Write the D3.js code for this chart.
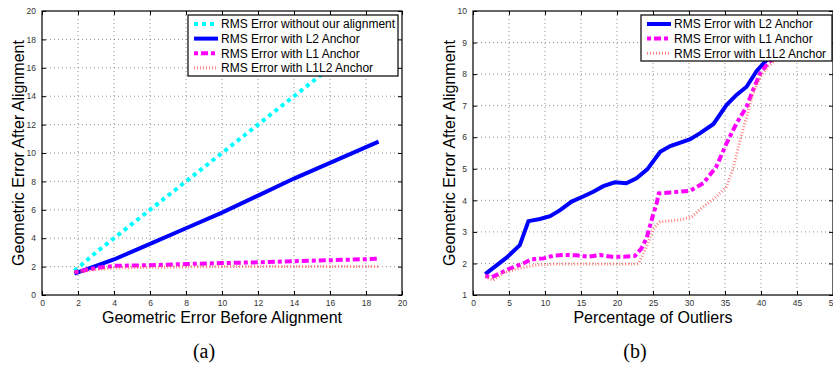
<!DOCTYPE html>
<html>
<head>
<meta charset="utf-8">
<script src="https://cdn.jsdelivr.net/npm/d3@7"></script>
<style>
  body { margin: 0; background: #fff; }
  svg { display: block; }
  text { font-family: "Liberation Sans", Arial, sans-serif; }
</style>
</head>
<body>
<svg id="chart"></svg>
<script>
let w = 833;
let h = 367;

// panel (a) data
let aX = [1.8, 3, 4, 6, 8, 10, 12, 14, 16, 18.7];
let aNoAlign = [1.7, 3, 4, 6, 8, 10, 12, 14, 16, 18.7];
let aL2 = [1.5, 2.05, 2.5, 3.6, 4.7, 5.8, 7.0, 8.2, 9.3, 10.8];
let aL1 = [1.6, 1.9, 2.05, 2.1, 2.18, 2.25, 2.3, 2.38, 2.45, 2.55];
let aL1L2 = [1.6, 1.8, 1.9, 1.95, 1.98, 2.0, 2.0, 2.0, 2.0, 2.0];

// panel (b) data
let bL2X = [1.7, 4.7, 6.5, 7.7, 9.3, 10.7, 12.1, 13.7, 15.3, 16.7, 18.1, 19.7, 21.3, 22.7, 24.2, 26, 27.4, 30.1, 31.5, 33.4, 35.2, 36.6, 38, 39.4, 40.8, 42, 44];
let bL2Y = [1.66, 2.19, 2.58, 3.34, 3.41, 3.5, 3.69, 3.96, 4.12, 4.27, 4.45, 4.57, 4.54, 4.7, 4.98, 5.54, 5.72, 5.93, 6.12, 6.42, 7.02, 7.34, 7.6, 8.1, 8.45, 8.7, 9.1];
let bL1X = [1.7, 2.6, 3.75, 5.1, 6.8, 8.1, 9.8, 11.2, 12.8, 14.4, 16, 17.6, 19.3, 20.9, 22.5, 23.4, 24.1, 25, 25.5, 25.8, 27.4, 30.1, 32, 33.8, 35.2, 36.6, 38, 38.9, 39.9, 41, 41.9, 43];
let bL1Y = [1.6, 1.56, 1.69, 1.84, 1.98, 2.13, 2.16, 2.25, 2.27, 2.26, 2.21, 2.27, 2.21, 2.21, 2.24, 2.48, 2.8, 3.53, 3.9, 4.22, 4.25, 4.3, 4.54, 5.07, 5.8, 6.44, 6.97, 7.5, 8.03, 8.35, 8.55, 8.9];
let bL1L2X = [1.7, 2.8, 4.2, 6.5, 8.8, 11.2, 13.5, 18.1, 22.7, 23, 24.1, 25, 25.5, 26, 28.75, 30.4, 32, 33.8, 35.2, 36.2, 37.1, 38, 38.9, 39.9, 41, 42.2, 43.5];
let bL1L2Y = [1.58, 1.47, 1.7, 1.85, 1.95, 1.98, 1.98, 1.98, 1.98, 2.0, 2.53, 3.06, 3.22, 3.32, 3.38, 3.48, 3.8, 4.11, 4.43, 5.07, 5.91, 6.65, 7.39, 7.92, 8.24, 8.5, 8.8];

let aXTicks = d3.range(0, 21, 2);
let aYTicks = d3.range(0, 21, 2);
let bXTicks = d3.range(0, 51, 5);
let bYTicks = d3.range(1, 11, 1);

let names = {
  none: "RMS Error without our alignment",
  l2: "RMS Error with L2 Anchor",
  l1: "RMS Error with L1 Anchor",
  l1l2: "RMS Error with L1L2 Anchor"
};

let styles = {
  none: { stroke: "#00ffff", width: 4, dash: "4,4", opacity: 1 },
  l2: { stroke: "#0000ff", width: 4, dash: null, opacity: 1 },
  l1: { stroke: "#ff00ff", width: 4, dash: "4,3,7,3", opacity: 1 },
  l1l2: { stroke: "#ff5a5a", width: 3, dash: "1,2", opacity: 0.75 }
};

let svg = d3.select("#chart").attr("width", w).attr("height", h);

function zip(xs, ys) {
  return xs.map((x, i) => [x, ys[i]]);
}

function drawPanel(cfg) {
  let xScale = d3.scaleLinear().domain(cfg.xDomain).range([cfg.left, cfg.right]);
  let yScale = d3.scaleLinear().domain(cfg.yDomain).range([cfg.bottom, cfg.top]);
  let g = svg.append("g");

  // grid
  g.selectAll(".gx").data(cfg.xTicks.slice(1, -1)).enter().append("line")
    .attr("x1", d => xScale(d)).attr("x2", d => xScale(d))
    .attr("y1", cfg.top).attr("y2", cfg.bottom)
    .attr("stroke", "#777").attr("stroke-width", 0.8).attr("stroke-dasharray", "1,3");
  g.selectAll(".gy").data(cfg.yTicks.slice(1, -1)).enter().append("line")
    .attr("y1", d => yScale(d)).attr("y2", d => yScale(d))
    .attr("x1", cfg.left).attr("x2", cfg.right)
    .attr("stroke", "#777").attr("stroke-width", 0.8).attr("stroke-dasharray", "1,3");

  // lines
  let line = d3.line().x(d => xScale(d[0])).y(d => yScale(d[1]));
  cfg.series.forEach(s => {
    let st = styles[s.key];
    g.append("path")
      .datum(s.points)
      .attr("d", line)
      .attr("fill", "none")
      .attr("stroke", st.stroke)
      .attr("stroke-width", st.width)
      .attr("stroke-dasharray", st.dash)
      .attr("opacity", st.opacity);
  });

  // axes with inward ticks on all sides
  let axB = d3.axisBottom(xScale).tickValues(cfg.xTicks).tickSizeInner(-4).tickSizeOuter(0).tickPadding(5);
  let axT = d3.axisTop(xScale).tickValues(cfg.xTicks).tickSizeInner(-4).tickSizeOuter(0).tickFormat("");
  let axL = d3.axisLeft(yScale).tickValues(cfg.yTicks).tickSizeInner(-4).tickSizeOuter(0).tickPadding(6);
  let axR = d3.axisRight(yScale).tickValues(cfg.yTicks).tickSizeInner(-4).tickSizeOuter(0).tickFormat("");
  [[axB, `translate(0,${cfg.bottom})`], [axT, `translate(0,${cfg.top})`],
   [axL, `translate(${cfg.left},0)`], [axR, `translate(${cfg.right},0)`]].forEach(([ax, tr]) => {
    let a = g.append("g").attr("transform", tr).call(ax);
    a.select(".domain").remove();
    a.selectAll("line").attr("stroke", "#000");
    a.selectAll("text").attr("font-size", 8.5).attr("fill", "#333")
      .style("font-family", "'Liberation Sans', Arial, sans-serif");
  });

  // frame
  g.append("rect")
    .attr("x", cfg.left).attr("y", cfg.top)
    .attr("width", cfg.right - cfg.left).attr("height", cfg.bottom - cfg.top)
    .attr("fill", "none").attr("stroke", "#000").attr("stroke-width", 1.2);

  // axis labels
  g.append("text")
    .attr("x", cfg.xLabelX).attr("y", 323)
    .attr("text-anchor", "middle").attr("font-size", 16)
    .text(cfg.xLabel);
  g.append("text")
    .attr("transform", `translate(${cfg.yLabelX},${(cfg.top + cfg.bottom) / 2}) rotate(-90)`)
    .attr("text-anchor", "middle").attr("font-size", 16)
    .text("Geometric Error After Alignment");
  g.append("text")
    .attr("x", cfg.capX).attr("y", 358)
    .attr("text-anchor", "middle").attr("font-size", 20)
    .style("font-family", "'Liberation Serif', 'Times New Roman', serif")
    .text(cfg.caption);

  // legend
  let lg = g.append("g");
  lg.append("rect")
    .attr("x", cfg.legend.x).attr("y", cfg.legend.y)
    .attr("width", cfg.legend.w).attr("height", cfg.legend.h)
    .attr("fill", "#fff").attr("stroke", "#000").attr("stroke-width", 1.2);
  cfg.series.forEach((s, i) => {
    let st = styles[s.key];
    let yy = cfg.legend.y + 9 + i * 14.6;
    lg.append("line")
      .attr("x1", cfg.legend.x + 6).attr("x2", cfg.legend.x + 30)
      .attr("y1", yy).attr("y2", yy)
      .attr("stroke", st.stroke).attr("stroke-width", st.width)
      .attr("stroke-dasharray", st.dash).attr("opacity", st.opacity);
    lg.append("text")
      .attr("x", cfg.legend.x + 33).attr("y", yy + 4.3)
      .attr("font-size", 12)
      .text(names[s.key]);
  });
}

drawPanel({
  left: 42, right: 402, top: 11, bottom: 295,
  xDomain: [0, 20], yDomain: [0, 20],
  xTicks: aXTicks, yTicks: aYTicks,
  xLabel: "Geometric Error Before Alignment", xLabelX: 222, yLabelX: 24,
  caption: "(a)", capX: 204,
  legend: { x: 188, y: 15, w: 210, h: 61 },
  series: [
    { key: "none", points: zip(aX, aNoAlign) },
    { key: "l2", points: zip(aX, aL2) },
    { key: "l1", points: zip(aX, aL1) },
    { key: "l1l2", points: zip(aX, aL1L2) }
  ]
});

drawPanel({
  left: 473, right: 833, top: 11, bottom: 295,
  xDomain: [0, 50], yDomain: [1, 10],
  xTicks: bXTicks, yTicks: bYTicks,
  xLabel: "Percentage of Outliers", xLabelX: 653, yLabelX: 455,
  caption: "(b)", capX: 635,
  legend: { x: 641, y: 15, w: 191, h: 46 },
  series: [
    { key: "l2", points: zip(bL2X, bL2Y) },
    { key: "l1", points: zip(bL1X, bL1Y) },
    { key: "l1l2", points: zip(bL1L2X, bL1L2Y) }
  ]
});
</script>
</body>
</html>
